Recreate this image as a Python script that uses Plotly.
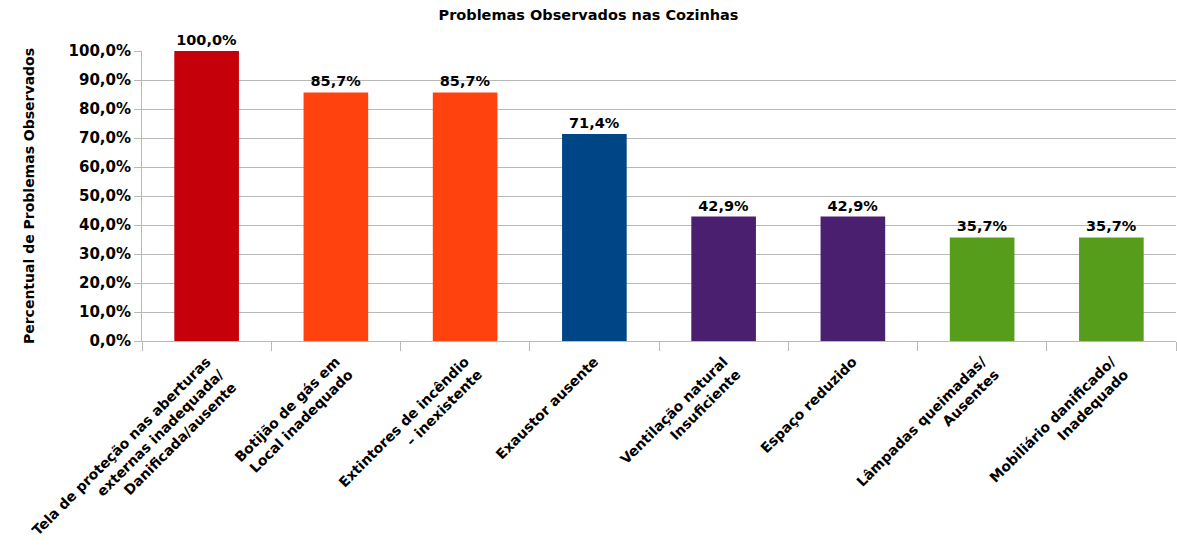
import plotly.graph_objects as go

categories = [
    "Tela de proteção nas aberturas<br>externas inadequada/<br>Danificada/ausente",
    "Botijão de gás em<br>Local inadequado",
    "Extintores de incêndio<br>– inexistente",
    "Exaustor ausente",
    "Ventilação natural<br>Insuficiente",
    "Espaço reduzido",
    "Lâmpadas queimadas/<br>Ausentes",
    "Mobiliário danificado/<br>Inadequado",
]
values = [100.0, 85.7, 85.7, 71.4, 42.9, 42.9, 35.7, 35.7]
bar_colors = ["#C5000B", "#FF420E", "#FF420E", "#004586",
              "#4B1F6F", "#4B1F6F", "#579D1C", "#579D1C"]

FONT = "DejaVu Sans"

labels = [f"{v:.1f}%".replace(".", ",") for v in values]

fig = go.Figure(
    go.Bar(
        x=categories,
        y=values,
        marker=dict(color=bar_colors, line=dict(width=0)),
        text=labels,
        textposition="outside",
        textfont=dict(family=FONT, size=14.5, color="#000000", weight="bold"),
        cliponaxis=False,
        width=0.5,
    )
)

fig.update_layout(
    width=1177,
    height=558,
    margin=dict(l=142, r=1, t=51, b=217),
    paper_bgcolor="white",
    plot_bgcolor="white",
    separators=",.",
    showlegend=False,
    title=dict(
        text="<b>Problemas Observados nas Cozinhas</b>",
        x=0.5,
        xref="container",
        xanchor="center",
        y=1 - 15 / 558,
        yanchor="middle",
        font=dict(family=FONT, size=14.5, color="#000000"),
    ),
)

fig.update_yaxes(
    range=[0, 100],
    dtick=10,
    tickformat=".1f",
    ticksuffix="%",
    showgrid=True,
    gridcolor="#B8B8B8",
    gridwidth=1,
    showline=True,
    linecolor="#B8B8B8",
    ticks="outside",
    ticklen=7,
    tickcolor="#B8B8B8",
    tickfont=dict(family=FONT, size=15, color="#000000", weight="bold"),
    title=dict(
        text="<b>Percentual de Problemas Observados</b>",
        font=dict(family=FONT, size=14, color="#000000"),
        standoff=30,
    ),
    automargin=False,
    zeroline=False,
)

fig.update_xaxes(
    showgrid=False,
    showline=True,
    linecolor="#B8B8B8",
    ticks="outside",
    tickson="boundaries",
    ticklen=9,
    tickcolor="#B8B8B8",
    tickangle=-45,
    ticklabelstandoff=6,
    automargin=False,
    tickfont=dict(family=FONT, size=14, color="#000000", weight="bold"),
)

fig.write_html("out.html")
